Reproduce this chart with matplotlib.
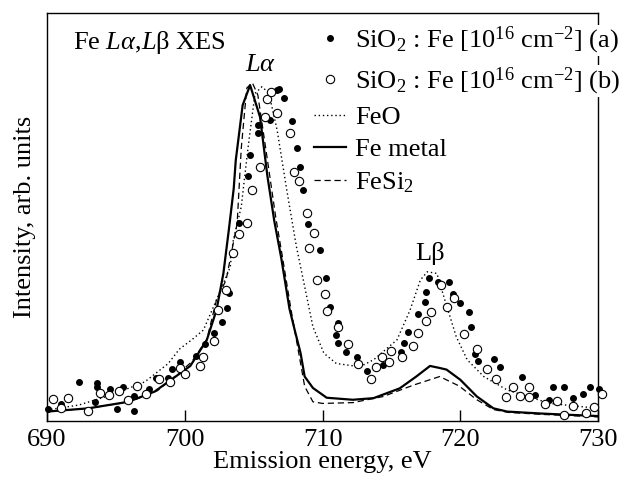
import matplotlib
matplotlib.use("Agg")
import matplotlib.pyplot as plt

plt.rcParams['font.family'] = ['Liberation Serif', 'DejaVu Serif']
plt.rcParams['mathtext.fontset'] = 'custom'
plt.rcParams['mathtext.rm'] = 'Liberation Serif'
plt.rcParams['mathtext.it'] = 'Liberation Serif:italic'
plt.rcParams['font.size'] = 19

# reference spectra (intensity in arb. units, 0..100 = axis height)
metal_e = [690.0, 693.0, 695.9, 697.8, 699.5, 700.4, 701.6, 702.3, 702.8, 703.2, 703.55, 703.7,
           704.2, 704.74, 705.46, 706.0, 706.5, 707.0, 707.6, 708.0, 708.4, 708.7, 709.3, 710.3,
           712.2, 713.7, 715.6, 716.8, 717.8, 718.5, 719.0, 720.0, 721.2, 722.4, 723.4, 726.0, 730.0]
metal_i = [2.3, 3.1, 4.7, 7.2, 11.3, 13.5, 19.9, 27.2, 36.2, 47.0, 57.0, 64.0,
           77.5, 82.4, 74.6, 60.0, 49.0, 40.0, 27.5, 22.0, 16.7, 10.9, 8.1, 5.7,
           5.2, 5.6, 8.0, 10.9, 13.5, 13.0, 12.6, 10.1, 6.0, 3.1, 2.3, 1.8, 1.2]

fesi_e = [690.0, 693.0, 696.0, 698.0, 699.5, 700.5, 701.6, 702.3, 703.0, 703.8, 704.1, 704.5,
          704.9, 705.3, 706.0, 706.6, 707.1, 707.7, 708.2, 708.7, 709.3, 710.0, 712.2, 714.4,
          716.6, 718.5, 719.9, 721.2, 722.4, 723.5, 726.0, 730.0]
fesi_i = [2.3, 3.1, 4.7, 7.4, 11.5, 14.5, 20.0, 29.7, 34.6, 48.5, 67.0, 81.7,
          83.0, 80.0, 64.0, 50.0, 40.0, 27.5, 18.0, 8.5, 4.7, 4.3, 4.5, 6.0,
          8.8, 10.9, 8.6, 5.2, 2.8, 2.1, 1.6, 1.0]

feo_e = [690.0, 692.3, 694.7, 697.1, 698.8, 699.6, 700.5, 701.35, 702.3, 703.3, 703.5, 704.1,
         704.6, 705.1, 705.6, 706.1, 706.7, 707.4, 708.1, 708.7, 709.3, 710.1, 711.0, 712.7,
         713.7, 715.4, 716.35, 717.1, 717.6, 718.3, 718.8, 719.7, 720.5, 721.7, 723.4, 726.5, 730.0]
feo_i = [2.7, 3.9, 6.4, 9.6, 14.1, 17.6, 19.9, 22.3, 29.7, 37.8, 44.0, 52.6,
         67.3, 80.4, 82.0, 80.5, 71.4, 56.7, 42.8, 33.0, 23.1, 16.6, 14.1, 13.3,
         15.0, 19.9, 27.2, 34.6, 36.6, 36.2, 30.5, 20.7, 15.0, 10.9, 7.6, 4.3, 3.1]

# SiO2:Fe sample (a), filled circles
a_e = [690.05, 691.0, 692.35, 693.65, 693.65, 693.5, 694.6, 695.5, 695.1, 696.3, 696.3, 697.4,
       697.9, 698.8, 699.1, 699.65, 700.8, 701.5, 702.1, 702.7, 703.05, 703.2, 703.96, 704.57,
       704.74, 705.3, 705.3, 706.2, 706.7, 706.86, 707.2, 707.76, 708.17, 708.37, 708.56, 708.93,
       709.82, 710.25, 710.55, 711.15, 710.96, 711.15, 711.7, 712.5, 713.2, 714.4, 715.7, 715.9,
       716.2, 716.95, 717.4, 717.5, 717.75, 718.4, 719.2, 719.45, 720.0, 720.6, 720.75, 721.1,
       721.3, 722.45, 722.9, 724.5, 725.4, 726.75, 727.5, 726.4, 728.2, 728.9, 729.4, 730.1]
a_i = [2.9, 4.2, 9.5, 9.4, 8.4, 4.6, 7.8, 8.3, 2.9, 2.5, 6.1, 7.8,
       10.5, 10.5, 12.8, 14.5, 16.0, 18.8, 21.5, 24.4, 27.8, 31.5, 48.6, 60.2,
       65.2, 70.7, 72.6, 73.8, 81.2, 81.4, 79.2, 73.6, 67.0, 62.2, 56.7, 48.3,
       41.9, 35.2, 28.0, 24.1, 21.1, 19.2, 17.0, 15.6, 12.3, 13.7, 16.8, 19.1,
       21.9, 26.2, 29.2, 31.6, 35.1, 34.0, 34.2, 31.2, 29.0, 26.8, 23.1, 16.4,
       14.8, 15.1, 13.2, 10.9, 6.4, 8.3, 8.4, 5.2, 5.6, 6.6, 8.4, 7.8]

# SiO2:Fe sample (b), open circles
b_e = [690.4, 691.0, 691.55, 693.0, 693.85, 694.5, 695.2, 695.9, 696.5, 697.2, 698.1, 698.9,
       699.65, 700.0, 701.3, 701.1, 702.1, 702.4, 703.0, 703.5, 703.9, 704.54, 704.86, 705.46,
       705.83, 706.0, 706.24, 706.7, 707.6, 707.93, 708.3, 708.85, 709.4, 709.04, 709.6, 710.2,
       710.35, 711.1, 711.87, 712.6, 713.5, 713.9, 714.3, 714.85, 715.0, 715.8, 716.55, 716.9,
       717.5, 717.9, 718.6, 719.55, 719.0, 720.3, 721.2, 721.97, 722.6, 723.85, 723.3, 724.3,
       725.0, 725.0, 726.15, 727.05, 727.5, 728.2, 729.1, 729.7, 730.3]
b_i = [5.3, 3.1, 5.7, 2.5, 6.8, 6.4, 7.3, 5.2, 8.6, 6.5, 10.3, 9.5,
       13.1, 11.5, 15.8, 13.5, 19.5, 27.2, 32.1, 41.3, 45.9, 48.6, 56.7, 62.4,
       74.5, 79.1, 80.8, 75.5, 70.7, 61.2, 58.9, 51.1, 46.2, 42.4, 34.6, 31.1,
       27.1, 23.1, 18.9, 14.0, 10.2, 13.3, 15.6, 14.5, 17.2, 15.6, 18.4, 21.7,
       24.6, 26.7, 33.4, 30.1, 27.9, 21.3, 17.6, 12.7, 10.2, 8.4, 5.8, 6.1,
       8.4, 5.8, 4.2, 5.0, 1.5, 3.7, 1.9, 3.5, 6.6]

fig = plt.figure(figsize=(6.22, 4.8), dpi=100)
ax = fig.add_axes([0.0756, 0.123, 0.886, 0.849])

ax.plot(a_e, a_i, 'o', color='black', ms=4, clip_on=False, zorder=3,
        label=r'SiO$_2$ : Fe [10$^{16}$ cm$^{-2}$] (a)')
ax.plot(b_e, b_i, 'o', mfc='white', mec='black', mew=0.8, ms=6, clip_on=False, zorder=3,
        label=r'SiO$_2$ : Fe [10$^{16}$ cm$^{-2}$] (b)')
ax.plot(feo_e, feo_i, color='black', lw=1.0, ls=(0, (1, 2)), label='FeO')
ax.plot(metal_e, metal_i, color='black', lw=1.6, label='Fe metal')
ax.plot(fesi_e, fesi_i, color='black', lw=0.9, ls=(0, (5, 3)), label=r'FeSi$_2$')

ax.set_xlim(690, 730)
ax.set_ylim(0, 100)
ax.set_xticks([690, 700, 710, 720, 730])
ax.set_yticks([])
ax.tick_params(axis='x', direction='in', length=8, width=1, pad=6)
for s in ax.spines.values():
    s.set_linewidth(1.0)

ax.set_xlabel('Emission energy, eV', labelpad=0)
ax.set_ylabel('Intensity, arb. units', labelpad=8)

ax.text(691.9, 92.8, r'Fe $L\alpha$,$L$β XES', ha='left', va='center')
ax.text(705.5, 87.3, r'$L\alpha$', ha='center', va='center')
ax.text(717.8, 41.2, 'Lβ', ha='center', va='center')

leg = ax.legend(loc='upper left', bbox_to_anchor=(0.485, 0.972), frameon=False,
                handlelength=1.2, handletextpad=0.35, labelspacing=0.34,
                borderpad=0, borderaxespad=0, fontsize=19)
leg.set_zorder(5)
for t in leg.get_texts():
    t.set_bbox(dict(facecolor='white', edgecolor='none', pad=0))

fig.savefig('out.png', dpi=100)
